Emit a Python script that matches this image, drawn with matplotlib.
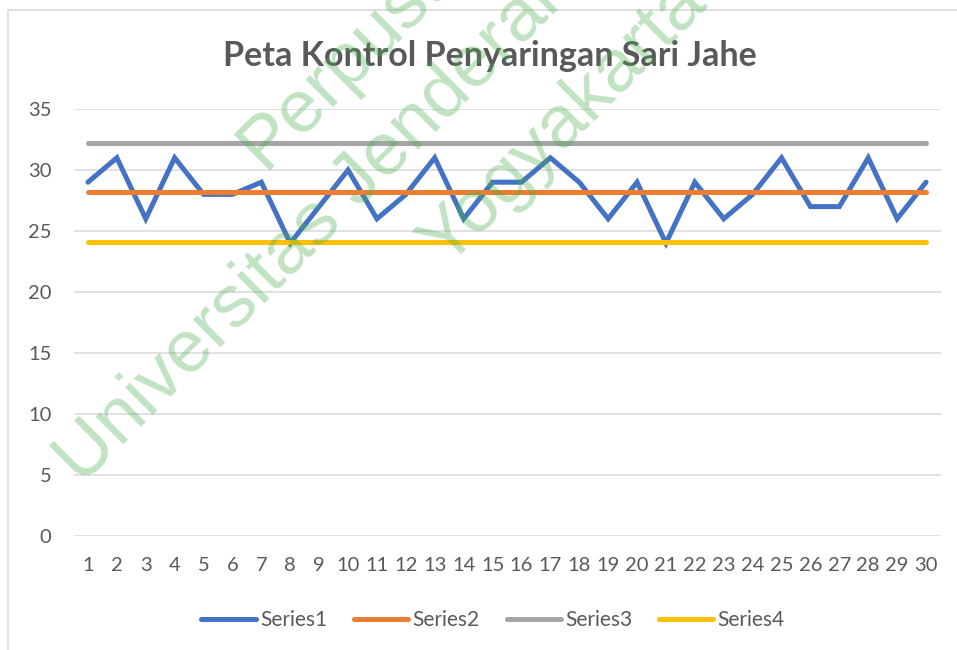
import matplotlib
matplotlib.use("Agg")
import matplotlib.pyplot as plt
from matplotlib.patches import Rectangle

categories = list(range(1, 31))
series1 = [29, 31, 26, 31, 28, 28, 29, 24, 27, 30, 26, 28, 31, 26, 29,
           29, 31, 29, 26, 29, 24, 29, 26, 28, 31, 27, 27, 31, 26, 29]
series2_value = 28.17   # centre line
series3_value = 32.24   # upper limit
series4_value = 24.09   # lower limit
series2 = [series2_value] * len(categories)
series3 = [series3_value] * len(categories)
series4 = [series4_value] * len(categories)
yticks = [0, 5, 10, 15, 20, 25, 30, 35]

W, H = 957, 650
plt.rcParams['font.family'] = ['Lato', 'DejaVu Sans']
fig = plt.figure(figsize=(W / 100, H / 100), dpi=100)
fig.patch.set_facecolor('white')

# chart border
fig.add_artist(Rectangle((8 / W, -0.1), 1.2, 1 - 10 / H + 0.1, transform=fig.transFigure,
                         fill=False, edgecolor='#D9D9D9', linewidth=1.2))

ax = fig.add_axes([73.5 / W, 114 / H, 867 / W, 427 / H])
ax.set_xlim(0.5, 30.5)
ax.set_ylim(0, 35)
ax.set_yticks(yticks)
ax.set_xticks(categories)
ax.set_xticklabels([str(c) for c in categories])
for s in ax.spines.values():
    s.set_visible(False)
ax.grid(axis='y', color='#D9D9D9', linewidth=1.1)
ax.set_axisbelow(True)
ax.tick_params(length=0, labelsize=14.5, colors='#595959')
ax.tick_params(axis='y', pad=16)
ax.tick_params(axis='x', pad=15)

lw = 3.6
ax.plot(categories, series1, color='#4472C4', lw=lw, solid_capstyle='round', solid_joinstyle='miter', label='Series1')
ax.plot(categories, series2, color='#ED7D31', lw=lw, solid_capstyle='round', label='Series2')
ax.plot(categories, series3, color='#A5A5A5', lw=lw, solid_capstyle='round', label='Series3')
ax.plot(categories, series4, color='#FFC000', lw=lw, solid_capstyle='round', label='Series4')

fig.text(490 / W, 1 - 56 / H, 'Peta Kontrol Penyaringan Sari Jahe', ha='center', va='center',
         fontsize=24.5, fontweight='bold', color='#595959')

leg = fig.legend(loc='center', bbox_to_anchor=(493 / W, 1 - 620 / H), ncol=4, frameon=False,
                 fontsize=15, handlelength=2.6, handletextpad=0.2, columnspacing=1.3)
for t in leg.get_texts():
    t.set_color('#595959')

# watermark
wm_color = '#4CAF50'
for txt, x, y in [('Perpustakaan', 264, 170),
                  ('Universitas Jenderal Achmad Yani', 82, 486),
                  ('Yogyakarta', 446, 268)]:
    fig.text(x / W, 1 - y / H, txt, rotation=45, rotation_mode='anchor', ha='left', va='baseline',
             fontsize=54, color=wm_color, alpha=0.35, family=['Liberation Sans', 'DejaVu Sans'])

fig.savefig('out.png', dpi=100)
